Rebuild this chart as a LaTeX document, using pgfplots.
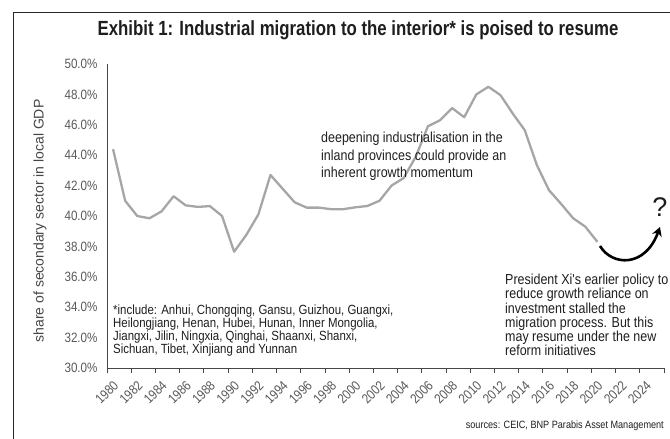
\documentclass[border=0pt]{standalone}
\usepackage{pgfplots}
\pgfplotsset{compat=1.18}
\usepackage{pgfplotstable}
\usepackage{fontspec}
\setmainfont{Liberation Sans}
\newfontfamily\narrowf[FakeStretch=0.86]{Liberation Sans}
\newfontfamily\titlef[FakeStretch=0.82]{Liberation Sans}
\usetikzlibrary{arrows.meta}

\definecolor{linegray}{RGB}{166,166,166}
\definecolor{ticktext}{RGB}{89,89,89}
\definecolor{axisgray}{RGB}{70,70,70}
\definecolor{txt}{RGB}{30,30,30}

% share of secondary sector in local GDP, interior provinces (%)
\pgfplotstableread{
year share
1980 44.4
1981 41.0
1982 40.0
1983 39.85
1984 40.3
1985 41.3
1986 40.7
1987 40.6
1988 40.65
1989 40.0
1990 37.65
1991 38.75
1992 40.1
1993 42.7
1994 41.8
1995 40.9
1996 40.55
1997 40.55
1998 40.45
1999 40.45
2000 40.57
2001 40.66
2002 41.0
2003 42.0
2004 42.5
2005 43.9
2006 45.9
2007 46.3
2008 47.1
2009 46.5
2010 48.0
2011 48.5
2012 47.95
2013 46.75
2014 45.65
2015 43.35
2016 41.7
2017 40.8
2018 39.85
2019 39.3
2020 38.3
}\sharedata

\newcommand\anno{\narrowf\fontsize{14.5}{15}\selectfont\color{txt}}
\newcommand\foot{\narrowf\fontsize{13.3}{13}\selectfont\color{txt}}

\begin{document}
\begin{tikzpicture}
\useasboundingbox (0pt,0pt) rectangle (670pt,-439pt);
% frame
\draw[line width=1pt, black!85] (13pt,-445pt) -- (13pt,-12pt) -- (680pt,-12pt);

\begin{axis}[
  at={(107pt,-368pt)}, anchor=south west,
  scale only axis, width=557pt, height=304pt,
  xmin=1979.5, xmax=2025.5, ymin=30, ymax=50,
  axis x line*=bottom, axis y line*=left,
  axis line style={axisgray, line width=0.9pt},
  xtick={1980,1982,...,2024},
  minor xtick={1979.5,1981.5,...,2025.5},
  ytick={30,32,...,50},
  major tick length=0pt, minor tick length=4.5pt,
  tick align=outside,
  minor tick style={axisgray, line width=0.9pt},
  /pgf/number format/assume math mode=true,
  /pgf/number format/1000 sep={},
  yticklabel={\pgfmathprintnumber[fixed,fixed zerofill,precision=1]{\tick}\%},
  tick label style={font=\narrowf\fontsize{13.5}{14}\selectfont, text=ticktext},
  y tick label style={xshift=-6pt},
  x tick label style={xshift=3pt, yshift=-15pt, rotate=45, anchor=east, inner sep=0pt},
  clip=false,
]
\addplot[linegray, line width=2.3pt, line join=round] table[x=year, y=share] {\sharedata};
\end{axis}

% title
\node[txt] at (358pt,-30pt) {\titlef\bfseries\fontsize{20.5}{21}\selectfont Exhibit 1: Industrial migration to the interior* is poised to resume};

% y label
\node[rotate=90, text=axisgray] at (40pt,-221pt) {\fontsize{14}{14}\selectfont share of secondary sector in local GDP};

% annotation 1
\node[anchor=base west, inner sep=0pt] at (321pt,-142pt) {\anno deepening industrialisation in the};
\node[anchor=base west, inner sep=0pt] at (321pt,-160pt) {\anno inland provinces could provide an};
\node[anchor=base west, inner sep=0pt] at (321pt,-177.5pt) {\anno inherent growth momentum};

% annotation 2
\node[anchor=base west, inner sep=0pt] at (505pt,-284.7pt) {\anno President Xi's earlier policy to};
\node[anchor=base west, inner sep=0pt] at (505pt,-298.9pt) {\anno reduce growth reliance on};
\node[anchor=base west, inner sep=0pt] at (505pt,-313.1pt) {\anno investment stalled the};
\node[anchor=base west, inner sep=0pt] at (505pt,-327.3pt) {\anno migration process. But this};
\node[anchor=base west, inner sep=0pt] at (505pt,-341.5pt) {\anno may resume under the new};
\node[anchor=base west, inner sep=0pt] at (505pt,-355.7pt) {\anno reform initiatives};

% footnote
\node[anchor=base west, inner sep=0pt] at (113pt,-314.2pt) {\foot *include: Anhui, Chongqing, Gansu, Guizhou, Guangxi,};
\node[anchor=base west, inner sep=0pt] at (113pt,-327.3pt) {\foot Heilongjiang, Henan, Hubei, Hunan, Inner Mongolia,};
\node[anchor=base west, inner sep=0pt] at (113pt,-340.4pt) {\foot Jiangxi, Jilin, Ningxia, Qinghai, Shaanxi, Shanxi,};
\node[anchor=base west, inner sep=0pt] at (113pt,-353.5pt) {\foot Sichuan, Tibet, Xinjiang and Yunnan};

% source
\node[anchor=base east, inner sep=0pt] at (664pt,-428pt) {\narrowf\fontsize{10.6}{11}\selectfont\color{txt} sources: CEIC, BNP Parabis Asset Management};

% question mark and curved arrow
\node[txt] at (660pt,-207pt) {\fontsize{27}{27}\selectfont ?};
\draw[line width=2.6pt, black, -{Stealth[length=9pt, width=10pt]}]
  (600pt,-246pt) .. controls (612pt,-266pt) and (645pt,-268pt) .. (660pt,-227pt);
\end{tikzpicture}
\end{document}
